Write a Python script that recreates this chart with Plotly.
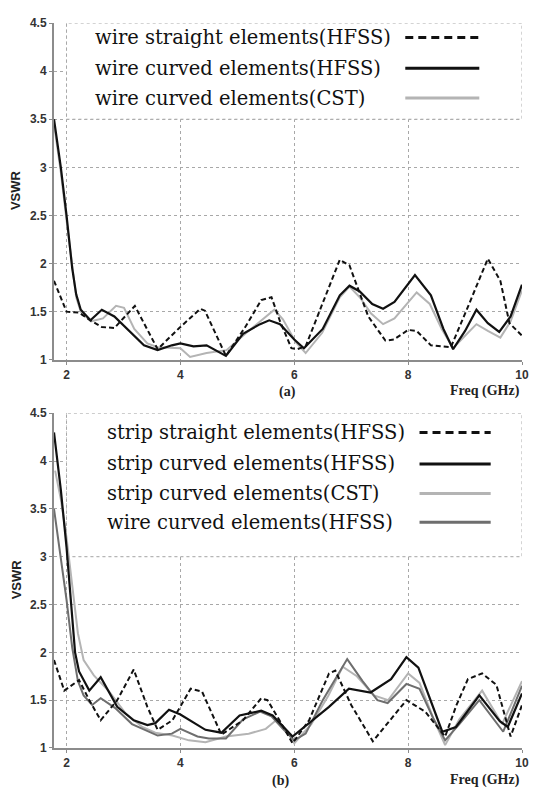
import plotly.graph_objects as go

# ---- (a) wire elements ----
wire_straight_f = [1.78, 2.0, 2.22, 2.42, 2.62, 2.84, 3.2, 3.38, 3.6, 3.98, 4.35, 4.43, 4.8, 5.15, 5.42, 5.6,
                   5.75, 5.95, 6.05, 6.2, 6.5, 6.8, 6.97, 7.3, 7.6, 7.75, 8.0, 8.15, 8.4, 8.6, 8.75, 9.05,
                   9.4, 9.62, 9.78, 10.0]
wire_straight_v = [1.82, 1.5, 1.49, 1.41, 1.34, 1.33, 1.56, 1.36, 1.11, 1.33, 1.53, 1.51, 1.04, 1.35, 1.62, 1.65,
                   1.4, 1.12, 1.11, 1.14, 1.58, 2.04, 1.98, 1.45, 1.2, 1.21, 1.31, 1.3, 1.15, 1.14, 1.13, 1.55,
                   2.05, 1.82, 1.38, 1.25]

wire_curved_f = [1.78, 1.9, 2.0, 2.1, 2.17, 2.25, 2.42, 2.62, 2.84, 3.1, 3.36, 3.6, 3.85, 4.0, 4.23, 4.46,
                 4.8, 5.1, 5.4, 5.56, 5.75, 6.0, 6.17, 6.5, 6.8, 6.97, 7.15, 7.37, 7.56, 7.76, 8.12, 8.4,
                 8.62, 8.79, 9.0, 9.2, 9.4, 9.6, 9.8, 10.0]
wire_curved_v = [3.5, 3.0, 2.5, 1.95, 1.68, 1.52, 1.41, 1.52, 1.45, 1.3, 1.15, 1.1, 1.15, 1.17, 1.14, 1.15,
                 1.04, 1.27, 1.37, 1.41, 1.37, 1.21, 1.12, 1.32, 1.67, 1.77, 1.71, 1.58, 1.53, 1.6, 1.88, 1.67,
                 1.32, 1.11, 1.3, 1.52, 1.38, 1.29, 1.45, 1.78]

wire_cst_f = [1.78, 1.9, 2.0, 2.1, 2.17, 2.25, 2.43, 2.64, 2.87, 3.01, 3.19, 3.42, 3.6, 4.0, 4.17, 4.46,
              4.81, 5.16, 5.45, 5.65, 5.8, 6.03, 6.2, 6.49, 6.8, 6.97, 7.15, 7.35, 7.56, 7.76, 8.15, 8.38,
              8.59, 8.79, 9.0, 9.2, 9.4, 9.62, 9.8, 10.0]
wire_cst_v = [3.45, 2.95, 2.45, 1.95, 1.65, 1.5, 1.4, 1.43, 1.56, 1.54, 1.32, 1.17, 1.13, 1.12, 1.03, 1.07,
              1.1, 1.28, 1.42, 1.52, 1.42, 1.18, 1.07, 1.28, 1.65, 1.76, 1.65, 1.48, 1.37, 1.43, 1.7, 1.58,
              1.32, 1.12, 1.25, 1.37, 1.3, 1.23, 1.4, 1.72]

# ---- (b) strip elements ----
strip_straight_f = [1.78, 1.96, 2.22, 2.4, 2.6, 2.89, 3.18, 3.42, 3.6, 3.86, 4.18, 4.38, 4.72, 5.1, 5.42, 5.53,
                    5.74, 5.97, 6.26, 6.61, 6.72, 7.0, 7.38, 7.97, 8.3, 8.55, 8.65, 8.85, 9.05, 9.3, 9.55,
                    9.8, 10.0]
strip_straight_v = [1.92, 1.6, 1.71, 1.5, 1.29, 1.5, 1.82, 1.43, 1.19, 1.29, 1.62, 1.59, 1.14, 1.29, 1.52, 1.5,
                    1.29, 1.05, 1.29, 1.78, 1.81, 1.45, 1.07, 1.5, 1.38, 1.2, 1.12, 1.45, 1.72, 1.78, 1.66,
                    1.12, 1.45]

strip_curved_f = [1.78, 1.9, 2.0, 2.08, 2.15, 2.22, 2.4, 2.6, 2.89, 3.18, 3.42, 3.56, 3.8, 4.0, 4.44, 4.72,
                  5.04, 5.42, 5.62, 5.97, 6.26, 6.61, 6.96, 7.34, 7.7, 7.97, 8.18, 8.6, 8.84, 9.25, 9.61,
                  9.75, 10.0]
strip_curved_v = [4.3, 3.7, 3.1, 2.5, 2.0, 1.8, 1.6, 1.74, 1.43, 1.29, 1.24, 1.26, 1.4, 1.35, 1.19, 1.16,
                  1.34, 1.39, 1.34, 1.12, 1.26, 1.43, 1.62, 1.58, 1.72, 1.95, 1.84, 1.17, 1.22, 1.55, 1.28,
                  1.22, 1.57]

strip_cst_f = [1.8, 1.9, 2.0, 2.1, 2.2, 2.3, 2.48, 2.75, 3.04, 3.33, 3.56, 3.86, 4.15, 4.44, 4.8, 5.2,
               5.5, 5.7, 5.9, 6.0, 6.3, 6.6, 6.85, 7.1, 7.4, 7.65, 8.0, 8.2, 8.45, 8.65, 8.9, 9.3, 9.65, 10.0]
strip_cst_v = [3.9, 3.6, 3.2, 2.7, 2.2, 1.92, 1.76, 1.59, 1.36, 1.22, 1.16, 1.13, 1.08, 1.06, 1.12, 1.15,
               1.2, 1.3, 1.15, 1.05, 1.25, 1.55, 1.85, 1.75, 1.55, 1.5, 1.78, 1.68, 1.3, 1.03, 1.3, 1.6,
               1.25, 1.7]

wire_b_f = [1.78, 1.9, 2.0, 2.1, 2.2, 2.3, 2.45, 2.6, 2.85, 3.15, 3.4, 3.6, 3.85, 4.0, 4.3, 4.5, 4.8, 5.1,
            5.4, 5.6, 5.8, 6.0, 6.2, 6.5, 6.93, 7.2, 7.46, 7.64, 7.97, 8.2, 8.45, 8.65, 8.9, 9.25, 9.67, 10.0]
wire_b_v = [3.5, 3.0, 2.55, 2.05, 1.7, 1.55, 1.45, 1.52, 1.42, 1.25, 1.18, 1.13, 1.15, 1.2, 1.12, 1.1, 1.1,
            1.3, 1.38, 1.33, 1.2, 1.08, 1.15, 1.5, 1.93, 1.7, 1.5, 1.47, 1.67, 1.62, 1.3, 1.08, 1.25, 1.5,
            1.17, 1.65]

labels_a = ["wire straight elements(HFSS)", "wire curved elements(HFSS)", "wire curved elements(CST)"]
labels_b = ["strip straight elements(HFSS)", "strip curved elements(HFSS)", "strip curved elements(CST)",
            "wire curved elements(HFSS)"]

x_ticks = [2, 4, 6, 8, 10]
y_ticks = [1, 1.5, 2, 2.5, 3, 3.5, 4, 4.5]

BLACK = "#111111"
LIGHT = "#b4b4b4"
DARK = "#6e6e6e"
DASH = "5px,3px"

sty_a = [dict(color=BLACK, width=2, dash=DASH), dict(color=BLACK, width=2.2), dict(color=LIGHT, width=2)]
sty_b = [dict(color=BLACK, width=2, dash=DASH), dict(color=BLACK, width=2.2), dict(color=LIGHT, width=2),
         dict(color=DARK, width=2)]

fig = go.Figure()

series_a = [(wire_straight_f, wire_straight_v), (wire_curved_f, wire_curved_v), (wire_cst_f, wire_cst_v)]
series_b = [(strip_straight_f, strip_straight_v), (strip_curved_f, strip_curved_v), (strip_cst_f, strip_cst_v),
            (wire_b_f, wire_b_v)]

# draw light lines first so black stays on top
for i in [2, 1, 0]:
    f, v = series_a[i]
    fig.add_trace(go.Scatter(x=f, y=v, mode="lines", line=sty_a[i], name=labels_a[i], xaxis="x", yaxis="y"))
for i in [2, 3, 1, 0]:
    f, v = series_b[i]
    fig.add_trace(go.Scatter(x=f, y=v, mode="lines", line=sty_b[i], name=labels_b[i], xaxis="x2", yaxis="y2"))

axis_common = dict(
    showline=True, linecolor="#8c8c8c", linewidth=2, mirror=False,
    showgrid=True, gridcolor="#a8a8a8", griddash="dot", gridwidth=1,
    ticks="outside", ticklen=3, tickcolor="#8c8c8c", zeroline=False,
    tickfont=dict(family="Liberation Sans", size=12, color="#333333", weight="bold"),
)

# page body has an 8px margin, so the figure is 8px smaller than the window
fig.update_layout(
    width=529, height=786,
    margin=dict(l=46, r=10, t=8, b=46),
    paper_bgcolor="white", plot_bgcolor="white",
    showlegend=False,
    xaxis=dict(axis_common, domain=[0, 1], range=[1.78, 10], tickvals=x_ticks, anchor="y"),
    yaxis=dict(axis_common, domain=[0.5355, 1.0], range=[1, 4.5], tickvals=y_ticks, anchor="x"),
    xaxis2=dict(axis_common, domain=[0, 1], range=[1.78, 10], tickvals=x_ticks, anchor="y2"),
    yaxis2=dict(axis_common, domain=[0, 0.4617], range=[1, 4.5], tickvals=y_ticks, anchor="x2"),
)

# legend boxes (cover the grid, drawn beneath the curves)
fig.add_shape(type="rect", xref="x", yref="y", x0=2, x1=10, y0=3.5, y1=4.5, layer="between",
              fillcolor="white", line=dict(color="#a8a8a8", width=1, dash="dot"))
fig.add_shape(type="rect", xref="x2", yref="y2", x0=2, x1=10, y0=3.0, y1=4.5, layer="between",
              fillcolor="white", line=dict(color="#a8a8a8", width=1, dash="dot"))

legend_font = dict(family="DejaVu Serif", size=19.5, color="#111111")

rows_a = [4.35, 4.03, 3.72]
for lab, yy, st in zip(labels_a, rows_a, sty_a):
    fig.add_annotation(x=2.46, y=yy, xref="x", yref="y", text=lab, showarrow=False,
                       xanchor="left", yanchor="middle", font=legend_font)
    fig.add_shape(type="line", xref="x", yref="y", x0=7.95, x1=9.25, y0=yy, y1=yy,
                  line=dict(st, width=3, dash="8px,5px" if "dash" in st else None))

rows_b = [4.3, 3.97, 3.66, 3.36]
for lab, yy, st in zip(labels_b, rows_b, sty_b):
    fig.add_annotation(x=2.67, y=yy, xref="x2", yref="y2", text=lab, showarrow=False,
                       xanchor="left", yanchor="middle", font=legend_font)
    fig.add_shape(type="line", xref="x2", yref="y2", x0=8.2, x1=9.45, y0=yy, y1=yy,
                  line=dict(st, width=3, dash="8px,5px" if "dash" in st else None))

bold_serif = dict(family="Liberation Serif", size=14, color="#222222", weight="bold")
bold_sans = dict(family="Liberation Sans", size=13, color="#222222", weight="bold")

fig.add_annotation(x=0.499, y=0.491, xref="paper", yref="paper", text="(a)", showarrow=False,
                   xanchor="center", yanchor="middle", font=bold_serif)
fig.add_annotation(x=1.0, y=0.493, xref="paper", yref="paper", text="Freq (GHz)", showarrow=False,
                   xanchor="right", yanchor="middle", font=bold_serif)
fig.add_annotation(x=0.485, y=-0.046, xref="paper", yref="paper", text="(b)", showarrow=False,
                   xanchor="center", yanchor="middle", font=bold_serif)
fig.add_annotation(x=1.0, y=-0.044, xref="paper", yref="paper", text="Freq (GHz)", showarrow=False,
                   xanchor="right", yanchor="middle", font=bold_serif)
fig.add_annotation(x=-0.082, y=0.769, xref="paper", yref="paper", text="VSWR", showarrow=False,
                   xanchor="center", yanchor="middle", textangle=-90, font=bold_sans)
fig.add_annotation(x=-0.08, y=0.232, xref="paper", yref="paper", text="VSWR", showarrow=False,
                   xanchor="center", yanchor="middle", textangle=-90, font=bold_sans)

fig.write_html("out.html")
